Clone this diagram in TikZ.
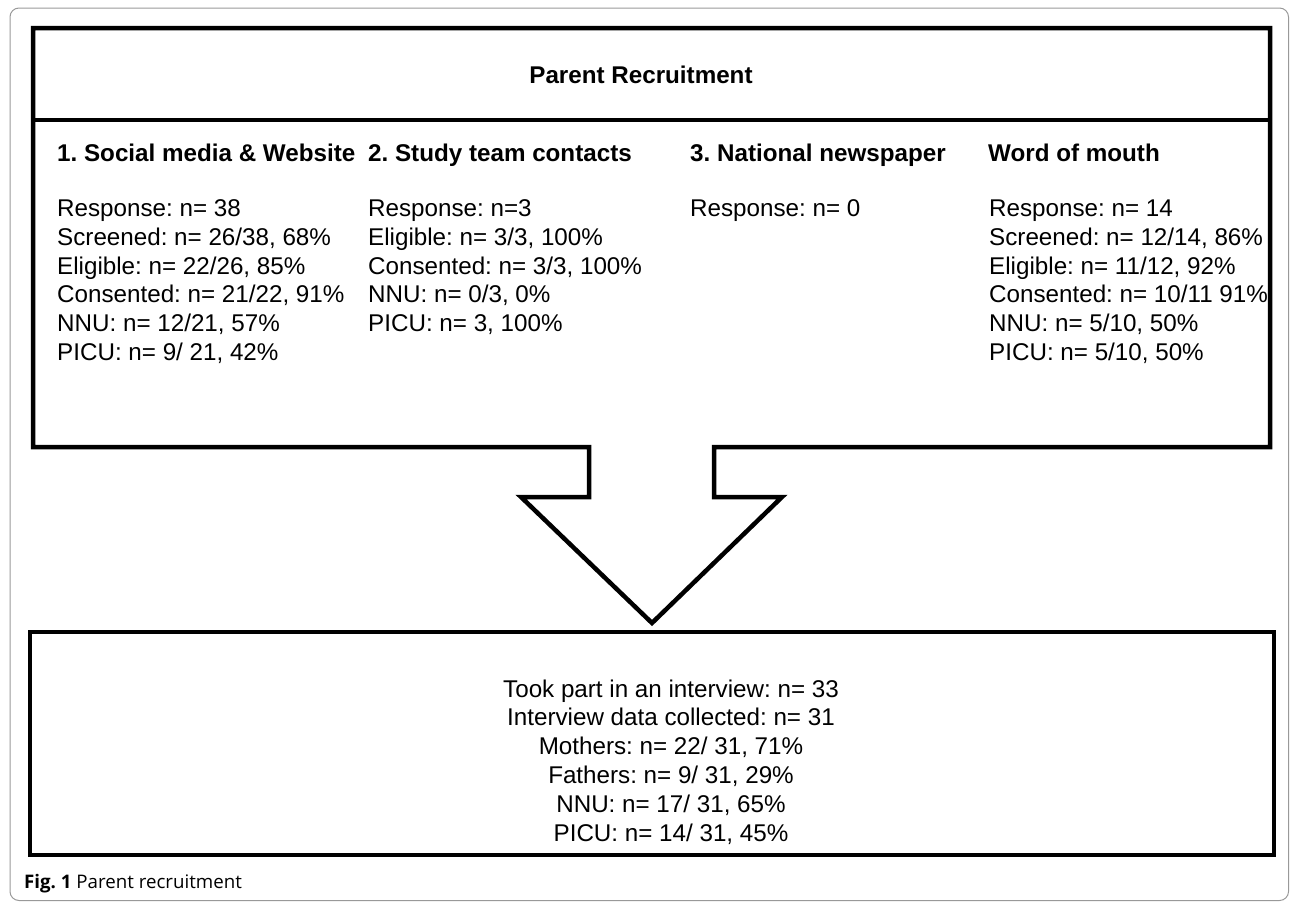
\documentclass[tikz,border=0pt]{standalone}
\usepackage{fontspec}
\setmainfont{Liberation Sans}
\newfontfamily\capfont{Open Sans}
\frenchspacing
\tikzset{
  frame/.style={line width=4.5pt,line join=miter},
  txt/.style={draw=none,inner sep=0pt,align=left,font=\fontsize{24.2}{28.8}\selectfont},
  head/.style={txt,font=\fontsize{24.2}{28.8}\selectfont\bfseries},
}
\begin{document}
\begin{tikzpicture}[x=1pt,y=-1pt]
\useasboundingbox (0,0) rectangle (1290,902);
%page frame
\draw[gray!80,line width=1pt,rounded corners=9pt] (10,8) rectangle (1288.5,900.5);

%corners
\coordinate (tl) at (33,28);
\coordinate (tr) at (1270,28);
\coordinate (bl) at (33,447);
\coordinate (br) at (1270,447);
\coordinate (sl) at (589,447);
\coordinate (sr) at (714,447);
\coordinate (tip) at (652,623);

%frames
\draw[frame] (sl) -- (bl) -- (tl) -- (tr) -- (br) -- (sr)
  -- (714,497) -- (782,497) -- (tip) -- (521,497) -- (589,497) -- cycle;
\draw[frame] (33,120) -- (1270,120);
\draw[frame] (30,632) rectangle (1274,855);

%title
\node[head,anchor=base] (title) at (641,83) {Parent Recruitment};

%sources
\node[head,anchor=base west] (h1) at (57,161) {1. Social media \& Website};
\node[head,anchor=base west] (h2) at (368,161) {2. Study team contacts};
\node[head,anchor=base west] (h3) at (690,161) {3. National newspaper};
\node[head,anchor=base west] (h4) at (988,161) {Word of mouth};

%numbers (base = last line)
\node[txt,anchor=base west] (b1) at (57,360.5) {Response: n= 38\\Screened: n= 26/38, 68\%\\Eligible: n= 22/26, 85\%\\Consented: n= 21/22, 91\%\\NNU: n= 12/21, 57\%\\PICU: n= 9/ 21, 42\%};
\node[txt,anchor=base west] (b2) at (368,331.7) {Response: n=3\\Eligible: n= 3/3, 100\%\\Consented: n= 3/3, 100\%\\NNU: n= 0/3, 0\%\\PICU: n= 3, 100\%};
\node[txt,anchor=base west] (b3) at (690,216.5) {Response: n= 0};
\node[txt,anchor=base west] (b4) at (989,360.5) {Response: n= 14\\Screened: n= 12/14, 86\%\\Eligible: n= 11/12, 92\%\\Consented: n= 10/11 91\%\\NNU: n= 5/10, 50\%\\PICU: n= 5/10, 50\%};

%interviews
\node[txt,align=center,anchor=base] (res) at (671,841) {Took part in an interview: n= 33\\Interview data collected: n= 31\\Mothers: n= 22/ 31, 71\%\\Fathers: n= 9/ 31, 29\%\\NNU: n= 17/ 31, 65\%\\PICU: n= 14/ 31, 45\%};

%caption
\node[draw=none,inner sep=0pt,anchor=base west,font=\capfont\fontsize{18.7}{22}\selectfont] (cap) at (24,888) {\textbf{Fig. 1} Parent recruitment};
\end{tikzpicture}
\end{document}
